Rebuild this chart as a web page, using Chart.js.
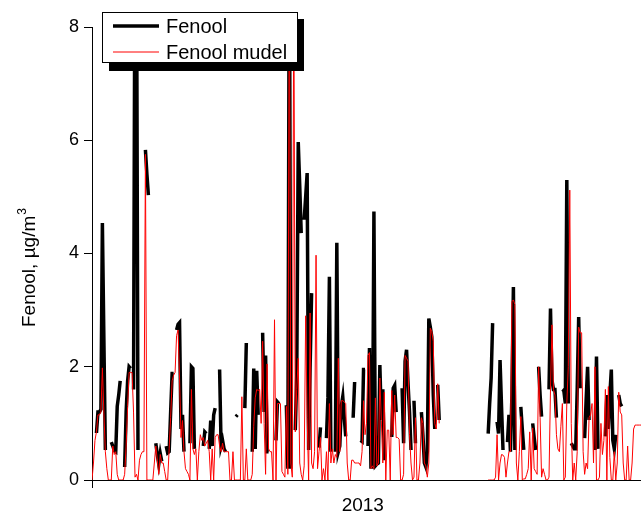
<!DOCTYPE html>
<html>
<head>
<meta charset="utf-8">
<script src="https://cdn.jsdelivr.net/npm/chart.js@4/dist/chart.umd.min.js"></script>
<style>
  html, body { margin: 0; padding: 0; background: #fff; }
  #wrap { width: 641px; height: 516px; }
</style>
</head>
<body>
<div id="wrap"><canvas id="c" width="641" height="516"></canvas></div>
<script>
// Daily phenol concentrations, 2013 (day index from 1 January). null = no data.
const fenool = [
  null, null, null, 0.83, 1.2, 1.2, 1.25, 4.54, 2.5, 0.53,
  null, null, null, 0.67, 0.6, 0.52, 0.5, 1.3, 1.5, 1.75,
  null, null, 0.23, 1.2, 1.75, 2.0, 1.97, null, 1.6, 10,
  9.5, 0.53, null, null, null, null, 5.83, 5.4, 5.03, null,
  null, null, null, 0.65, 0.45, 0.28, 0.47, 0.33, null, null,
  0.6, 0.48, 0.5, 1.2, 1.88, 1.88, null, 2.65, 2.75, 2.78,
  0.9, 1.15, 0.5, null, null, null, 0.65, 2.0, 1.97, 0.55,
  null, null, null, null, null, 0.6, 0.85, 0.82, null, 0.55,
  1.05, 0.6, 1.15, 1.27, null, null, 1.95, 0.6, 0.7, 0.55,
  0.5, null, null, null, null, null, null, 1.12, 1.15, null,
  null, null, null, 1.27, 2.42, null, null, null, 0.5, 1.97,
  0.55, 1.93, 1.15, null, null, 2.6, 1.2, 2.2, 0.5, 0.5,
  null, null, null, null, 0.7, 1.38, 1.35, null, null, null,
  null, 1.32, 0.2, 10, 0.2, null, null, 0.88, 1.85, 5.97,
  5.2, 4.36, null, 4.6, 5.0, 5.42, 0.53, 2.0, 3.3, null,
  null, null, null, 0.57, 0.93, null, null, null, 0.74, 1.45,
  3.59, 0.5, null, null, 0.5, 4.19, 0.5, 0.6, 1.3, 1.47,
  1.1, 0.77, null, null, null, null, 1.1, 1.73, null, null,
  null, 0.7, 0.68, 1.95, 1.95, null, 0.6, 2.33, 0.23, 0.23,
  4.74, 0.25, 0.28, 0.3, 2.03, 1.06, 1.6, 0.35, null, null,
  null, null, 0.76, 1.62, 1.67, 1.2, null, null, null, 1.62,
  0.65, 2.1, 2.3, 1.7, 1.2, 0.53, null, 1.4, 0.65, null,
  null, null, 1.2, 0.8, 0.3, 0.23, 0.5, 2.85, 2.7, 2.53,
  1.5, 0.9, null, 1.68, 1.06, null, null, null, null, null,
  null, null, null, null, null, null, null, null, null, null,
  null, null, null, null, null, null, null, null, null, null,
  null, null, null, null, null, null, null, 0.82, 1.35, 1.8,
  2.77, null, null, 1.03, 0.82, 2.12, 1.3, 0.53, null, null,
  0.67, 1.15, 0.5, 1.5, 3.41, 0.53, null, null, null, 1.29,
  0.9, 0.53, null, null, null, null, null, 1.0, 0.75, 0.53,
  null, 2.0, 1.5, 1.12, null, null, null, null, 1.6, 3.03,
  1.76, 1.6, 1.6, 1.1, null, null, null, 1.6, 1.58, 1.35,
  5.3, 1.35, null, 0.65, 0.6, 0.55, 0.55, 1.6, 2.88, 1.62,
  null, null, 0.74, 1.4, 2.0, 1.06, null, null, null, 0.53,
  2.18, 0.55, null, null, null, null, 0.77, 1.5, 0.9, 1.5,
  1.95, 0.7, 0.55, 0.8, null, 1.5, 1.35, 1.3, null, null,
  null, null, null, null, null, null, null, null, null, null,
  null
];

// Modelled phenol concentrations for the same days.
const fenoolMudel = [
  0, 0.3, 0.7, 0.85, 1.15, 1.15, 1.2, 1.98, 1.2, 0.5,
  0.2, 0, 0, 0, 0.6, 0.45, 0.5, 0.1, 0, 0,
  0, 0, 0.1, 0.6, 1.3, 1.9, 1.9, 1.9, 1.2, 0.05,
  0.1, 0, 0.35, 0.45, 0.5, 0.5, 5.75, 0, 0, 0,
  0, 0, 0.3, 0.6, 0.35, 0.1, 0.45, 0.3, 0.3, 0.15,
  0, 0, 0.55, 1.1, 1.75, 1.85, 1.9, 2.55, 2.65, 1.8,
  0.75, 1.05, 0.5, 0.2, 0.15, 0.1, 0, 1.6, 0.55, 0.45,
  0.55, 0, 0.5, 0.8, 0.7, 0.75, 0.6, 0.65, 0.7, 0.5,
  0, 0.55, 0, 0.75, 0.8, 0.8, 0.6, 0.5, 0.65, 0.5,
  0.5, 0.5, 0.5, 0, 0, 0.5, 0, 0, 0, 0,
  0, 1.47, 0, 0, 0.55, 0, 0, 0, 0.1, 0.95,
  1.45, 1.6, 1.58, 1.6, 1.0, 2.45, 1.0, 0.1, 2.05, 0.55,
  0.5, 0.5, 0, 2.83, 0, 1.35, 1.35, 1.35, 0.15, 0.1,
  0.05, 1.3, 0.1, 9.5, 0.3, 0.05, 9.0, 0.85, 1.6, 2.15,
  0.3, 0.1, 0, 0.25, 2.9, 1.1, 0, 2.95, 0.3, 0.2,
  0.5, 3.97, 0.2, 0.5, 0.75, 0, 0.2, 0, 0.5, 0,
  1.35, 0.3, 0.55, 0.3, 0.45, 0.4, 2.15, 0.5, 1.4, 1.4,
  1.38, 1.35, 0.3, 0, 0, 0.35, 0.35, 0.3, 0.3, 0.3,
  0.3, 0.25, 0.5, 1.4, 0.8, 1.0, 2.2, 2.25, 0.2, 0.25,
  0.2, 1.45, 0.25, 0.3, 1.8, 1.05, 0.3, 1.55, 0, 0.88,
  0.88, 0, 1.58, 0.8, 1.5, 0.75, 0.75, 0.72, 0, 0,
  0.1, 2.2, 2.15, 2.1, 0.8, 0.3, 0, 0.05, 1.1, 0,
  0, 0.3, 1.1, 1.0, 0.3, 0.25, 0.05, 0.3, 2.68, 2.62,
  2.45, 1.0, 0.9, 1.7, 1.0, null, null, null, null, null,
  null, null, null, null, null, null, null, null, null, null,
  null, null, null, null, null, null, null, null, null, null,
  null, null, null, null, null, null, null, 0, 0, 0,
  0, 0, 0.05, 0.8, 0, 0.3, 0.45, 0.44, 0.4, 0.05,
  0.3, 0.5, 0.5, 3.15, 3.18, 3.1, 0.3, 0, 0.5, 1.12,
  0, 0.02, 0.02, 0.1, 0.2, 0.85, 0, 0.92, 0.2, 0.15,
  0.1, 2.0, 1.1, 0.05, 0.2, 0.1, 0, 0, 0.05, 1.6,
  2.74, 1.6, 1.5, 0.8, 0.55, 0.5, 0.95, 1.35, 0, 0.05,
  1.35, 2.0, 5.12, 1.0, 0, 0.3, 0, 0.5, 2.7, 2.6,
  2.6, 0.5, 0.1, 0.3, 0.2, 1.1, 1.15, 1.35, 0.3, 2.0,
  0, 0, 0.05, 1.0, 0.45, 0.7, 1.6, 0, 1.65, 0.4,
  0, 0, 0.5, 0, 0.3, 1.55, 1.2, 1.15, 0.3, 0,
  0, 0.6, 0, 0, 0.3, 0.9, 0.97, 0.97, 0.97, 0.97,
  0.97
];

const yearLabel = '2013';
const yTicks = [0, 2, 4, 6, 8];
const seriesNames = ['Fenool', 'Fenool mudel'];

const FONT = "'Liberation Sans', Arial, sans-serif";

function toPoints(values) {
  return values.map((v, i) => ({ x: i, y: v }));
}

// Y-axis title with a superscript unit, plus the boxed legend with a drop shadow.
const decorations = {
  id: 'decorations',
  afterDraw(chart) {
    const ctx = chart.ctx;
    ctx.save();

    // axis title
    ctx.save();
    ctx.translate(35, 327);
    ctx.rotate(-Math.PI / 2);
    ctx.fillStyle = '#000';
    ctx.textBaseline = 'alphabetic';
    ctx.textAlign = 'left';
    ctx.font = '19px ' + FONT;
    const main = 'Fenool, \u00B5g/m';
    ctx.fillText(main, 0, 0);
    const w = ctx.measureText(main).width;
    ctx.font = '12px ' + FONT;
    ctx.fillText('3', w + 1, -9);
    ctx.restore();

    // legend
    ctx.fillStyle = '#000';
    ctx.fillRect(109, 19, 195, 52);
    ctx.fillStyle = '#fff';
    ctx.fillRect(102, 12, 196, 51);
    ctx.strokeStyle = '#000';
    ctx.lineWidth = 1;
    ctx.strokeRect(102.5, 12.5, 195, 50);

    ctx.lineCap = 'butt';
    ctx.beginPath();
    ctx.strokeStyle = '#000';
    ctx.lineWidth = 3.5;
    ctx.moveTo(113, 26);
    ctx.lineTo(159, 26);
    ctx.stroke();

    ctx.beginPath();
    ctx.strokeStyle = '#ff0000';
    ctx.lineWidth = 1;
    ctx.moveTo(113, 52);
    ctx.lineTo(159, 52);
    ctx.stroke();

    ctx.fillStyle = '#000';
    ctx.font = '20px ' + FONT;
    ctx.textAlign = 'left';
    ctx.textBaseline = 'alphabetic';
    ctx.fillText(seriesNames[0], 166, 33);
    ctx.fillText(seriesNames[1], 166, 59);

    ctx.restore();
  }
};

new Chart(document.getElementById('c'), {
  type: 'line',
  data: {
    datasets: [
      {
        label: seriesNames[0],
        data: toPoints(fenool),
        borderColor: '#000',
        borderWidth: 3.5,
        pointRadius: 0,
        tension: 0,
        spanGaps: false,
        order: 1
      },
      {
        label: seriesNames[1],
        data: toPoints(fenoolMudel),
        borderColor: '#ff0000',
        borderWidth: 1,
        pointRadius: 0,
        tension: 0,
        spanGaps: false,
        order: 0
      }
    ]
  },
  options: {
    responsive: false,
    animation: false,
    layout: { padding: { top: 27, right: 0, left: 0, bottom: 0 } },
    plugins: { legend: { display: false }, tooltip: { enabled: false } },
    scales: {
      x: {
        type: 'linear',
        min: 0,
        max: 370,
        afterBuildTicks: s => { s.ticks = [{ value: 0 }, { value: 182.5 }]; },
        afterFit: s => { s.height = 36; },
        ticks: {
          autoSkip: false,
          maxRotation: 0,
          padding: 6,
          color: '#000',
          font: { family: FONT, size: 19 },
          callback: v => (v === 182.5 ? yearLabel : '')
        },
        grid: {
          drawOnChartArea: false,
          tickLength: 8,
          tickWidth: 1,
          tickColor: c => (c.tick && c.tick.value === 0 ? '#000' : 'rgba(0,0,0,0)')
        },
        border: { color: '#000', width: 1 }
      },
      y: {
        min: 0,
        max: 8,
        afterBuildTicks: s => { s.ticks = yTicks.map(v => ({ value: v })); },
        afterFit: s => { s.width = 92; },
        ticks: {
          padding: 5,
          color: '#000',
          font: { family: FONT, size: 18 }
        },
        grid: {
          drawOnChartArea: false,
          tickLength: 8,
          tickWidth: 1,
          tickColor: '#000'
        },
        border: { color: '#000', width: 1 }
      }
    }
  },
  plugins: [decorations]
});
</script>
</body>
</html>
